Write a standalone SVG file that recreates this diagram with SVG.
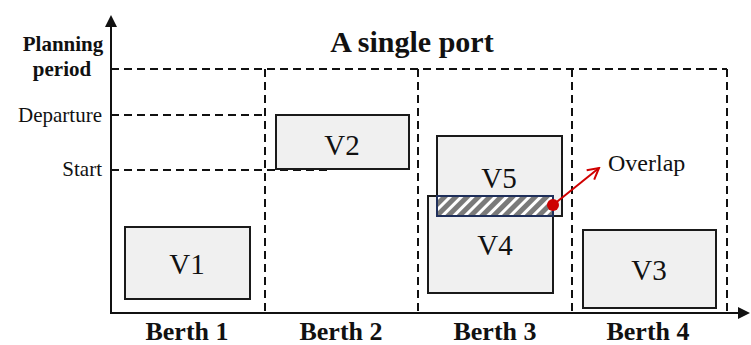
<svg xmlns="http://www.w3.org/2000/svg" width="751" height="345" viewBox="0 0 751 345">
<defs>
<style>
.dash{stroke:#111;stroke-width:2;stroke-dasharray:8 5;fill:none}
.axis{stroke:#111;stroke-width:2;fill:none}
.box{fill:#f0f0f0;stroke:#1a1a1a;stroke-width:2}
.vl{font-family:"Liberation Serif",serif;font-size:29px;fill:#111;text-anchor:middle}
.lab{font-family:"Liberation Serif",serif;font-size:21px;fill:#111}
.bold{font-family:"Liberation Serif",serif;font-weight:bold;fill:#111}
</style>
<pattern id="hatch" width="8" height="8" patternUnits="userSpaceOnUse" patternTransform="rotate(45)">
<rect width="8" height="8" fill="#7a7a7a"/>
<rect x="0" y="0" width="3" height="8" fill="#ffffff"/>
</pattern>
<marker id="ah" markerWidth="12" markerHeight="12" refX="10" refY="6" orient="auto" markerUnits="userSpaceOnUse">
<path d="M0,0 L12,6 L0,12 Z" fill="#111"/>
</marker>
<marker id="rh" markerWidth="14" markerHeight="14" refX="12" refY="7" orient="auto" markerUnits="userSpaceOnUse">
<path d="M1,1 L12,7 L1,13" fill="none" stroke="#d00000" stroke-width="2"/>
</marker>
</defs>
<rect width="751" height="345" fill="#ffffff"/>
<g id="grid">
<line class="dash" x1="111" y1="69" x2="727" y2="69"/>
<line class="dash" x1="111" y1="115" x2="265" y2="115"/>
<line class="dash" x1="111" y1="170" x2="330" y2="170"/>
<line class="dash" x1="265" y1="69" x2="265" y2="313"/>
<line class="dash" x1="418" y1="69" x2="418" y2="313"/>
<line class="dash" x1="572" y1="69" x2="572" y2="313"/>
<line class="dash" x1="727" y1="69" x2="727" y2="313"/>
</g>
<g id="axes">
<line class="axis" x1="111" y1="313" x2="111" y2="17" marker-end="url(#ah)"/>
<line class="axis" x1="110" y1="313" x2="748" y2="313" marker-end="url(#ah)"/>
</g>
<g id="labels">
<text class="bold" x="412" y="52" font-size="30" text-anchor="middle">A single port</text>
<text class="bold" x="63" y="51" font-size="21" text-anchor="middle">Planning</text>
<text class="bold" x="62" y="76" font-size="21" text-anchor="middle">period</text>
<text class="lab" x="102" y="122" text-anchor="end">Departure</text>
<text class="lab" x="102" y="176" text-anchor="end">Start</text>
<text class="bold" x="187" y="340" font-size="26" text-anchor="middle">Berth 1</text>
<text class="bold" x="341" y="340" font-size="26" text-anchor="middle">Berth 2</text>
<text class="bold" x="495" y="340" font-size="26" text-anchor="middle">Berth 3</text>
<text class="bold" x="648" y="340" font-size="26" text-anchor="middle">Berth 4</text>
</g>
<g id="V1"><rect class="box" x="125" y="227" width="125" height="72"/><text class="vl" x="187" y="274">V1</text></g>
<g id="V2"><rect class="box" x="276" y="115" width="133" height="54"/><text class="vl" x="342" y="155">V2</text></g>
<g id="V5"><rect class="box" x="437" y="136" width="125" height="80"/><text class="vl" x="499" y="188">V5</text></g>
<g id="V4"><rect class="box" x="428" y="196" width="125" height="97"/><text class="vl" x="495" y="255">V4</text></g>
<g id="V3"><rect class="box" x="583" y="230" width="133" height="78"/><text class="vl" x="649" y="280">V3</text></g>
<g id="overlap-area"><rect x="437" y="196" width="116" height="20" fill="url(#hatch)" stroke="#1f2f5a" stroke-width="2"/></g>
<g id="connectors">
<circle cx="553" cy="205" r="6" fill="#cc0000"/>
<line x1="553" y1="205" x2="599" y2="168" stroke="#d00000" stroke-width="2" marker-end="url(#rh)"/>
</g>
<g id="overlap-label"><text x="608" y="171" font-family="'Liberation Serif',serif" font-size="24" fill="#111">Overlap</text></g>
</svg>
